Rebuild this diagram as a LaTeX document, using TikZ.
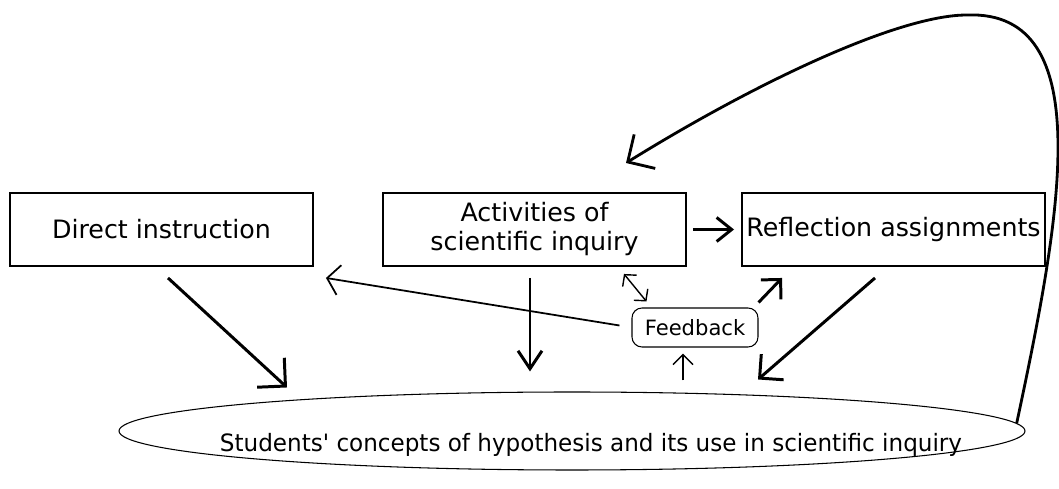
\documentclass[tikz,border=0pt]{standalone}
\usepackage{fontspec}
\setmainfont{DejaVu Sans}
\newfontfamily\plainsans{DejaVu Sans}
\usetikzlibrary{arrows.meta,shapes.geometric,calc}

\tikzset{
  stage/.style={rectangle, draw, line width=1.1pt, minimum width=6.06cm, minimum height=1.46cm, inner xsep=1.5pt, align=center, font=\fontsize{14.4}{16.5}\selectfont},
  thickarr/.style={line width=1.7pt, -{Straight Barb[length=3.4mm, width=6.8mm]}},
  thinarr/.style={line width=1pt, -{Straight Barb[length=2.4mm, width=6mm]}},
  tinyarr/.style={line width=0.8pt, -{Straight Barb[length=1.8mm, width=3.8mm]}},
}

\begin{document}
\begin{tikzpicture}[x=0.2mm, y=-0.2mm]
  \useasboundingbox (0,0) rectangle (1059,489);
  % Nodes
  \node (direct) [stage] at (161.5,229.5) {Direct instruction};
  \node (acts) [stage] at (534.5,229.5) {Activities of\\scientific inquiry};
  \node (refl) [stage] at (893.5,229.5) {Reflection assignments};
  \node (fb) [rectangle, rounded corners=2mm, draw, line width=0.6pt, minimum width=2.52cm, minimum height=0.78cm, font=\fontsize{12}{14}\selectfont] at (695,327.5) {Feedback};
  \node (stud) [ellipse, draw, line width=0.6pt, minimum width=18.12cm, minimum height=1.56cm, inner sep=0pt] at (572,431) {};
  \node (studtext) [font=\plainsans\fontsize{13.6}{16}\selectfont] at ($(stud)+(19,14)$)
    {\resizebox{14.84cm}{\height}{Students' concepts of hypothesis and its use in scientific inquiry}};
  % Arrows
  \draw[thickarr, -{Straight Barb[length=4mm, width=8mm]}] ($(direct.south)+(6.5,11)$) -- ($(stud.north)+(-285,-4)$);
  \draw[thinarr] ($(fb.west)+(-12,-2)$) -- ($(direct.south east)+(12,11)$);
  \draw[thickarr, -{Straight Barb[length=3.6mm, width=4.8mm]}] ($(acts.south)+(-4.5,11)$) -- ($(stud.north)+(-42,-20)$);
  \draw[tinyarr, {Straight Barb[length=1.6mm, width=3.6mm]}-{Straight Barb[length=1.6mm, width=3.6mm]}] ($(acts.south east)+(-63,7)$) -- ($(fb.north west)+(15,-6)$);
  \draw[thickarr, -{Straight Barb[length=3mm, width=4.8mm]}, shorten <=1.2mm, shorten >=1.4mm] (acts) -- (refl);
  \draw[thickarr, -{Straight Barb[length=2.8mm, width=5.6mm]}] ($(fb.north east)+(0,-5)$) -- ($(refl.south west)+(41,11)$);
  \draw[thickarr] ($(refl.south)+(-18.5,11)$) -- ($(stud.north)+(186,-12)$);
  \draw[tinyarr, -{Straight Barb[length=2mm, width=4mm]}] ($(stud.north)+(111,-11)$) -- ($(fb.south)+(-12,6)$);
  % Loop back to the inquiry activities
  \coordinate (looptop) at (967,15);
  \coordinate (loopend) at (626,163);
  \draw[line width=1.6pt, -{Straight Barb[length=4mm, width=8mm]}] (stud.1.7) .. controls (1060,220) and (1100,10) .. (looptop) .. controls (900,15) and (760,80) .. (loopend);
\end{tikzpicture}
\end{document}
